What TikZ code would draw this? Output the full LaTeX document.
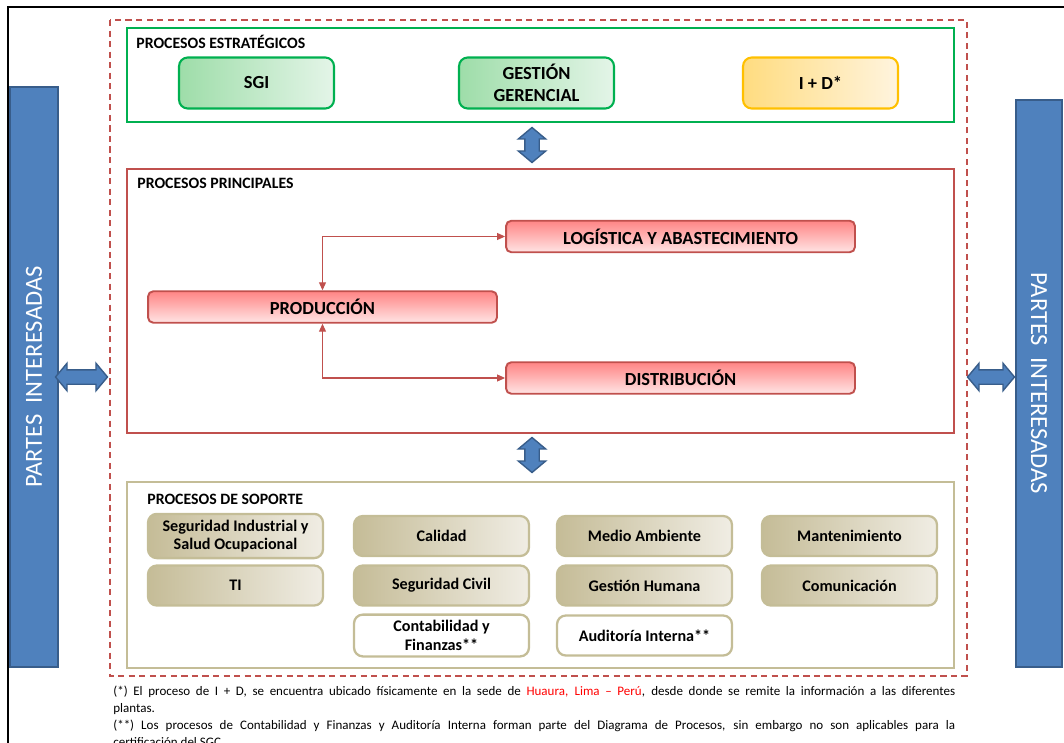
\documentclass[tikz,border=0pt]{standalone}
\usepackage{fontspec}
\setmainfont{Carlito}
\usepackage{xcolor}
\usetikzlibrary{shapes.arrows, arrows.meta}
\definecolor{stratgreen}{HTML}{00B050}
\definecolor{greendark}{HTML}{9EDDA9}
\definecolor{greenlight}{HTML}{E4F5E8}
\definecolor{idyellow}{HTML}{FFC000}
\definecolor{yellowdark}{HTML}{FFDC80}
\definecolor{yellowlight}{HTML}{FFF4DE}
\definecolor{mainred}{HTML}{C0504D}
\definecolor{redtop}{HTML}{FF8585}
\definecolor{redbottom}{HTML}{FFE4E4}
\definecolor{supptan}{HTML}{C4BD97}
\definecolor{tandark}{HTML}{C5BC97}
\definecolor{tanlight}{HTML}{F0EDE4}
\definecolor{partblue}{HTML}{4F81BD}
\definecolor{partedge}{HTML}{385D8A}

\begin{document}
\begin{tikzpicture}[x=0.02cm, y=-0.02cm,
    frame/.style={line width=1.2pt},
    title/.style={anchor=west, inner sep=0pt, font=\fontsize{9}{11}\selectfont\bfseries},
    stratbox/.style={rectangle, rounded corners=5pt, draw=stratgreen, line width=1.2pt,
                     left color=greendark, right color=greenlight, align=center,
                     minimum width=3.1cm, minimum height=1.02cm,
                     font=\fontsize{10.5}{12.5}\selectfont\bfseries},
    mainbox/.style={rectangle, rounded corners=3pt, draw=mainred, line width=1.1pt,
                    top color=redtop, bottom color=redbottom,
                    minimum width=6.98cm, minimum height=0.63cm,
                    font=\fontsize{10.5}{12.5}\selectfont\bfseries},
    suppbox/.style={rectangle, rounded corners=5pt, draw=supptan, line width=1.3pt,
                    left color=tandark, right color=tanlight, align=center,
                    minimum width=3.5cm, minimum height=0.8cm,
                    font=\fontsize{9.2}{10.6}\selectfont\bfseries},
    extbox/.style={rectangle, rounded corners=5pt, draw=supptan, line width=1.3pt,
                   fill=white, align=center, minimum width=3.5cm, minimum height=0.8cm,
                   font=\fontsize{9.2}{10.6}\selectfont\bfseries},
    bar/.style={rectangle, draw=partedge, line width=1pt, fill=partblue, text=white,
                font=\fontsize{14}{16}\selectfont},
    dblarr/.style={double arrow, draw=partedge, line width=0.8pt, fill=partblue,
                   inner xsep=0pt, inner ysep=0.13cm, minimum width=0.54cm,
                   double arrow head extend=0.13cm, double arrow tip angle=100},
    conn/.style={{Triangle[length=0.16cm,width=0.14cm]}-{Triangle[length=0.16cm,width=0.14cm]},
                 mainred, line width=0.6pt}
  ]
  \useasboundingbox (0,0) rectangle (1064,743);
  \clip (0,0) rectangle (1064,743);
  \draw[line width=0.85pt] (8,7) rectangle (1090,770);
  \draw[mainred, line width=0.9pt, dash pattern=on 3.5pt off 2.5pt] (110,20) rectangle (967,676);

  % Estrategicos
  \draw[stratgreen, frame] (127,28) rectangle (954,122);
  \node[title] (tstrat) at (136,42) {PROCESOS ESTRATÉGICOS};
  \node[stratbox] (sgi) at (256.5,83) {SGI};
  \node[stratbox] (gg)  at (536.5,83) {GESTIÓN\\GERENCIAL};
  \node[stratbox, draw=idyellow, left color=yellowdark, right color=yellowlight] (id) at (820.5,83) {I + D*};

  \node[dblarr, rotate=90, minimum height=0.7cm] (arrtop) at (532,145) {};

  % Principales
  \draw[mainred, frame] (127,169) rectangle (954,433);
  \node[title] (tmain) at (137,183) {PROCESOS PRINCIPALES};
  \node[mainbox] (log)  at (680.5,236.5) {LOGÍSTICA Y ABASTECIMIENTO};
  \node[mainbox] (prod) at (322.5,307) {PRODUCCIÓN};
  \node[mainbox] (dist) at (680.5,378) {DISTRIBUCIÓN};

  \draw[conn] (prod.north) |- (log.west);
  \draw[conn] (prod.south) |- (dist.west);

  \node[dblarr, rotate=90, minimum height=0.7cm] (arrbot) at (532,455) {};

  % Soporte
  \draw[supptan, frame] (127,482) rectangle (954,668);
  \node[title] (tsupp) at (147,499) {PROCESOS DE SOPORTE};
  \node[suppbox] (sso)  at (235.5,536) {Seguridad Industrial y\\Salud Ocupacional};
  \node[suppbox] (ti)   at (235.5,585.5) {TI};
  \node[suppbox] (cal)  at (441.5,536) {Calidad};
  \node[suppbox] (sciv) at (441.5,585.5) {Seguridad Civil};
  \node[extbox]  (cont) at (441.5,635.5) {Contabilidad y\\Finanzas**};
  \node[suppbox] (mamb) at (644.5,536) {Medio Ambiente};
  \node[suppbox] (ghum) at (644.5,585.5) {Gestión Humana};
  \node[extbox]  (aud)  at (644.5,635.5) {Auditoría Interna**};
  \node[suppbox] (mant) at (849.5,536) {Mantenimiento};
  \node[suppbox] (com)  at (849.5,585.5) {Comunicación};

  % Partes interesadas
  \node[bar, rotate=90, minimum width=11.6cm, minimum height=0.96cm] (pleft) at (34,377) {PARTES\ \ INTERESADAS};
  \node[bar, rotate=-90, minimum width=11.34cm, minimum height=0.92cm] (pright) at (1039,383.5) {PARTES\ \ INTERESADAS};
  \node[dblarr, minimum height=1.04cm] (arrleft)  at (81.5,377) {};
  \node[dblarr, minimum height=0.94cm] (arrright) at (991,377) {};

  \node[anchor=north west, inner sep=0pt, text width=16.84cm, align=justify,
        font=\fontsize{7.4}{9.6}\selectfont] (notes) at (113,686)
    {(*) El proceso de I + D, se encuentra ubicado físicamente en la sede de \textcolor{red}{Huaura, Lima -- Perú}, desde donde se remite la información a las diferentes\linebreak
     plantas.\\
     (**) Los procesos de Contabilidad y Finanzas y Auditoría Interna forman parte del Diagrama de Procesos, sin embargo no son aplicables para la\linebreak
     certificación del SGC.};
\end{tikzpicture}
\end{document}
